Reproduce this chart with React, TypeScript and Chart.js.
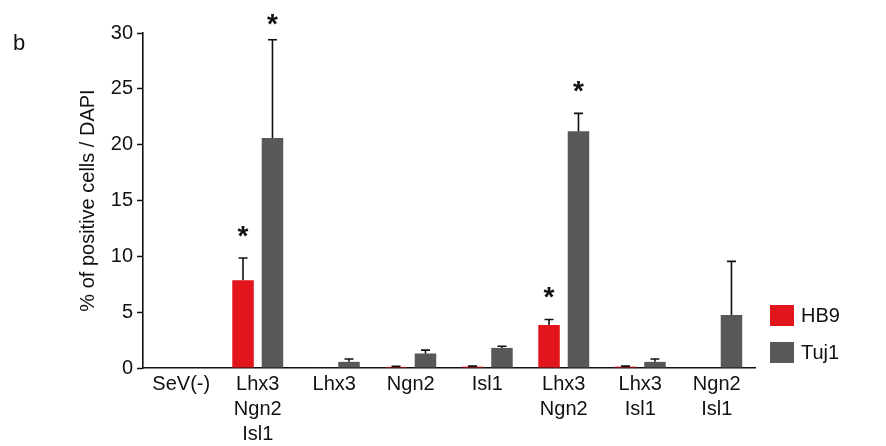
import React, { useEffect, useRef } from "react";
import { Chart, registerables } from "chart.js";
Chart.register(...registerables);

const categories: string[][] = [
  ["SeV(-)"],
  ["Lhx3", "Ngn2", "Isl1"],
  ["Lhx3"],
  ["Ngn2"],
  ["Isl1"],
  ["Lhx3", "Ngn2"],
  ["Lhx3", "Isl1"],
  ["Ngn2", "Isl1"],
];
const hb9Values = [0, 7.85, 0.05, 0.1, 0.12, 3.85, 0.12, 0];
const hb9Errors = [0, 2.0, 0, 0.05, 0.05, 0.5, 0.05, 0];
const hb9Signif = [false, true, false, false, false, true, false, false];
const tuj1Values = [0, 20.6, 0.55, 1.3, 1.8, 21.2, 0.55, 4.75];
const tuj1Errors = [0, 8.8, 0.25, 0.3, 0.15, 1.6, 0.25, 4.8];
const tuj1Signif = [false, true, false, false, false, true, false, false];
const yTicks = [0, 5, 10, 15, 20, 25, 30];

const RED = "#e2141c";
const GRAY = "#58585a";
const FONT = "'Liberation Sans', Arial, sans-serif";

const errorPlugin = {
  id: "errorBars",
  afterDatasetsDraw(chart: any) {
    const ctx = chart.ctx;
    const y = chart.scales.y;
    const errs = [hb9Errors, tuj1Errors];
    const sig = [hb9Signif, tuj1Signif];
    const vals = [hb9Values, tuj1Values];
    ctx.save();
    chart.data.datasets.forEach((ds: any, di: number) => {
      const meta = chart.getDatasetMeta(di);
      meta.data.forEach((bar: any, i: number) => {
        const v = vals[di][i];
        const e = errs[di][i];
        const x = bar.x;
        const yTop = y.getPixelForValue(v);
        const yErr = y.getPixelForValue(v + e);
        if (e > 0) {
          ctx.strokeStyle = "#111";
          ctx.lineWidth = 1.6;
          ctx.beginPath();
          ctx.moveTo(x, yTop);
          ctx.lineTo(x, yErr);
          ctx.moveTo(x - 4.5, yErr);
          ctx.lineTo(x + 4.5, yErr);
          ctx.stroke();
        }
        if (sig[di][i]) {
          const cy = Math.max(yErr - 29, chart.chartArea.top - 16);
          ctx.fillStyle = "#111";
          ctx.font = `bold 28px ${FONT}`;
          ctx.textAlign = "center";
          ctx.textBaseline = "alphabetic";
          ctx.fillText("*", x, cy + 16);
        }
      });
    });
    // legend
    const items = [
      { label: "HB9", color: RED, y: 315 },
      { label: "Tuj1", color: GRAY, y: 352 },
    ];
    items.forEach((it) => {
      ctx.fillStyle = it.color;
      ctx.fillRect(770, it.y - 10, 24, 21);
      ctx.fillStyle = "#111";
      ctx.font = `20px ${FONT}`;
      ctx.textAlign = "left";
      ctx.textBaseline = "middle";
      ctx.fillText(it.label, 801, it.y + 1);
    });
    // panel letter
    ctx.fillStyle = "#111";
    ctx.font = `22px ${FONT}`;
    ctx.textAlign = "left";
    ctx.textBaseline = "middle";
    ctx.fillText("b", 13, 44);
    ctx.restore();
  },
};

export default function App() {
  const ref = useRef<HTMLCanvasElement>(null);
  useEffect(() => {
    document.body.style.margin = "0";
    const chart = new Chart(ref.current!, {
      type: "bar",
      data: {
        labels: categories,
        datasets: [
          { label: "HB9", data: hb9Values, backgroundColor: RED, categoryPercentage: 0.77, barPercentage: 0.73 },
          { label: "Tuj1", data: tuj1Values, backgroundColor: GRAY, categoryPercentage: 0.77, barPercentage: 0.73 },
        ],
      },
      options: {
        animation: false,
        responsive: false,
        layout: { padding: { left: 76, right: 131, top: 33, bottom: 0 } },
        plugins: { legend: { display: false }, tooltip: { enabled: false } },
        scales: {
          x: {
            grid: { display: false, drawTicks: false },
            border: { color: "#111", width: 1.6 },
            afterFit(scale: any) {
              scale.height = 78;
            },
            ticks: {
              color: "#111",
              font: { family: FONT, size: 20, lineHeight: 1.25 },
              padding: 4,
              maxRotation: 0,
              autoSkip: false,
            },
          },
          y: {
            min: 0,
            max: 30,
            afterBuildTicks(scale: any) {
              scale.ticks = yTicks.map((v) => ({ value: v }));
            },
            afterFit(scale: any) {
              scale.width = 67;
            },
            grid: { drawOnChartArea: false, tickLength: 6, color: "#111", tickWidth: 1.5 },
            border: { color: "#111", width: 1.6 },
            ticks: { color: "#111", font: { family: FONT, size: 20 }, padding: 4 },
            title: {
              display: true,
              text: "% of positive cells / DAPI",
              color: "#111",
              font: { family: FONT, size: 20 },
              padding: 0,
            },
          },
        },
      },
      plugins: [errorPlugin],
    });
    return () => chart.destroy();
  }, []);
  return <canvas ref={ref} width={886} height={446} style={{ display: "block" }} />;
}
